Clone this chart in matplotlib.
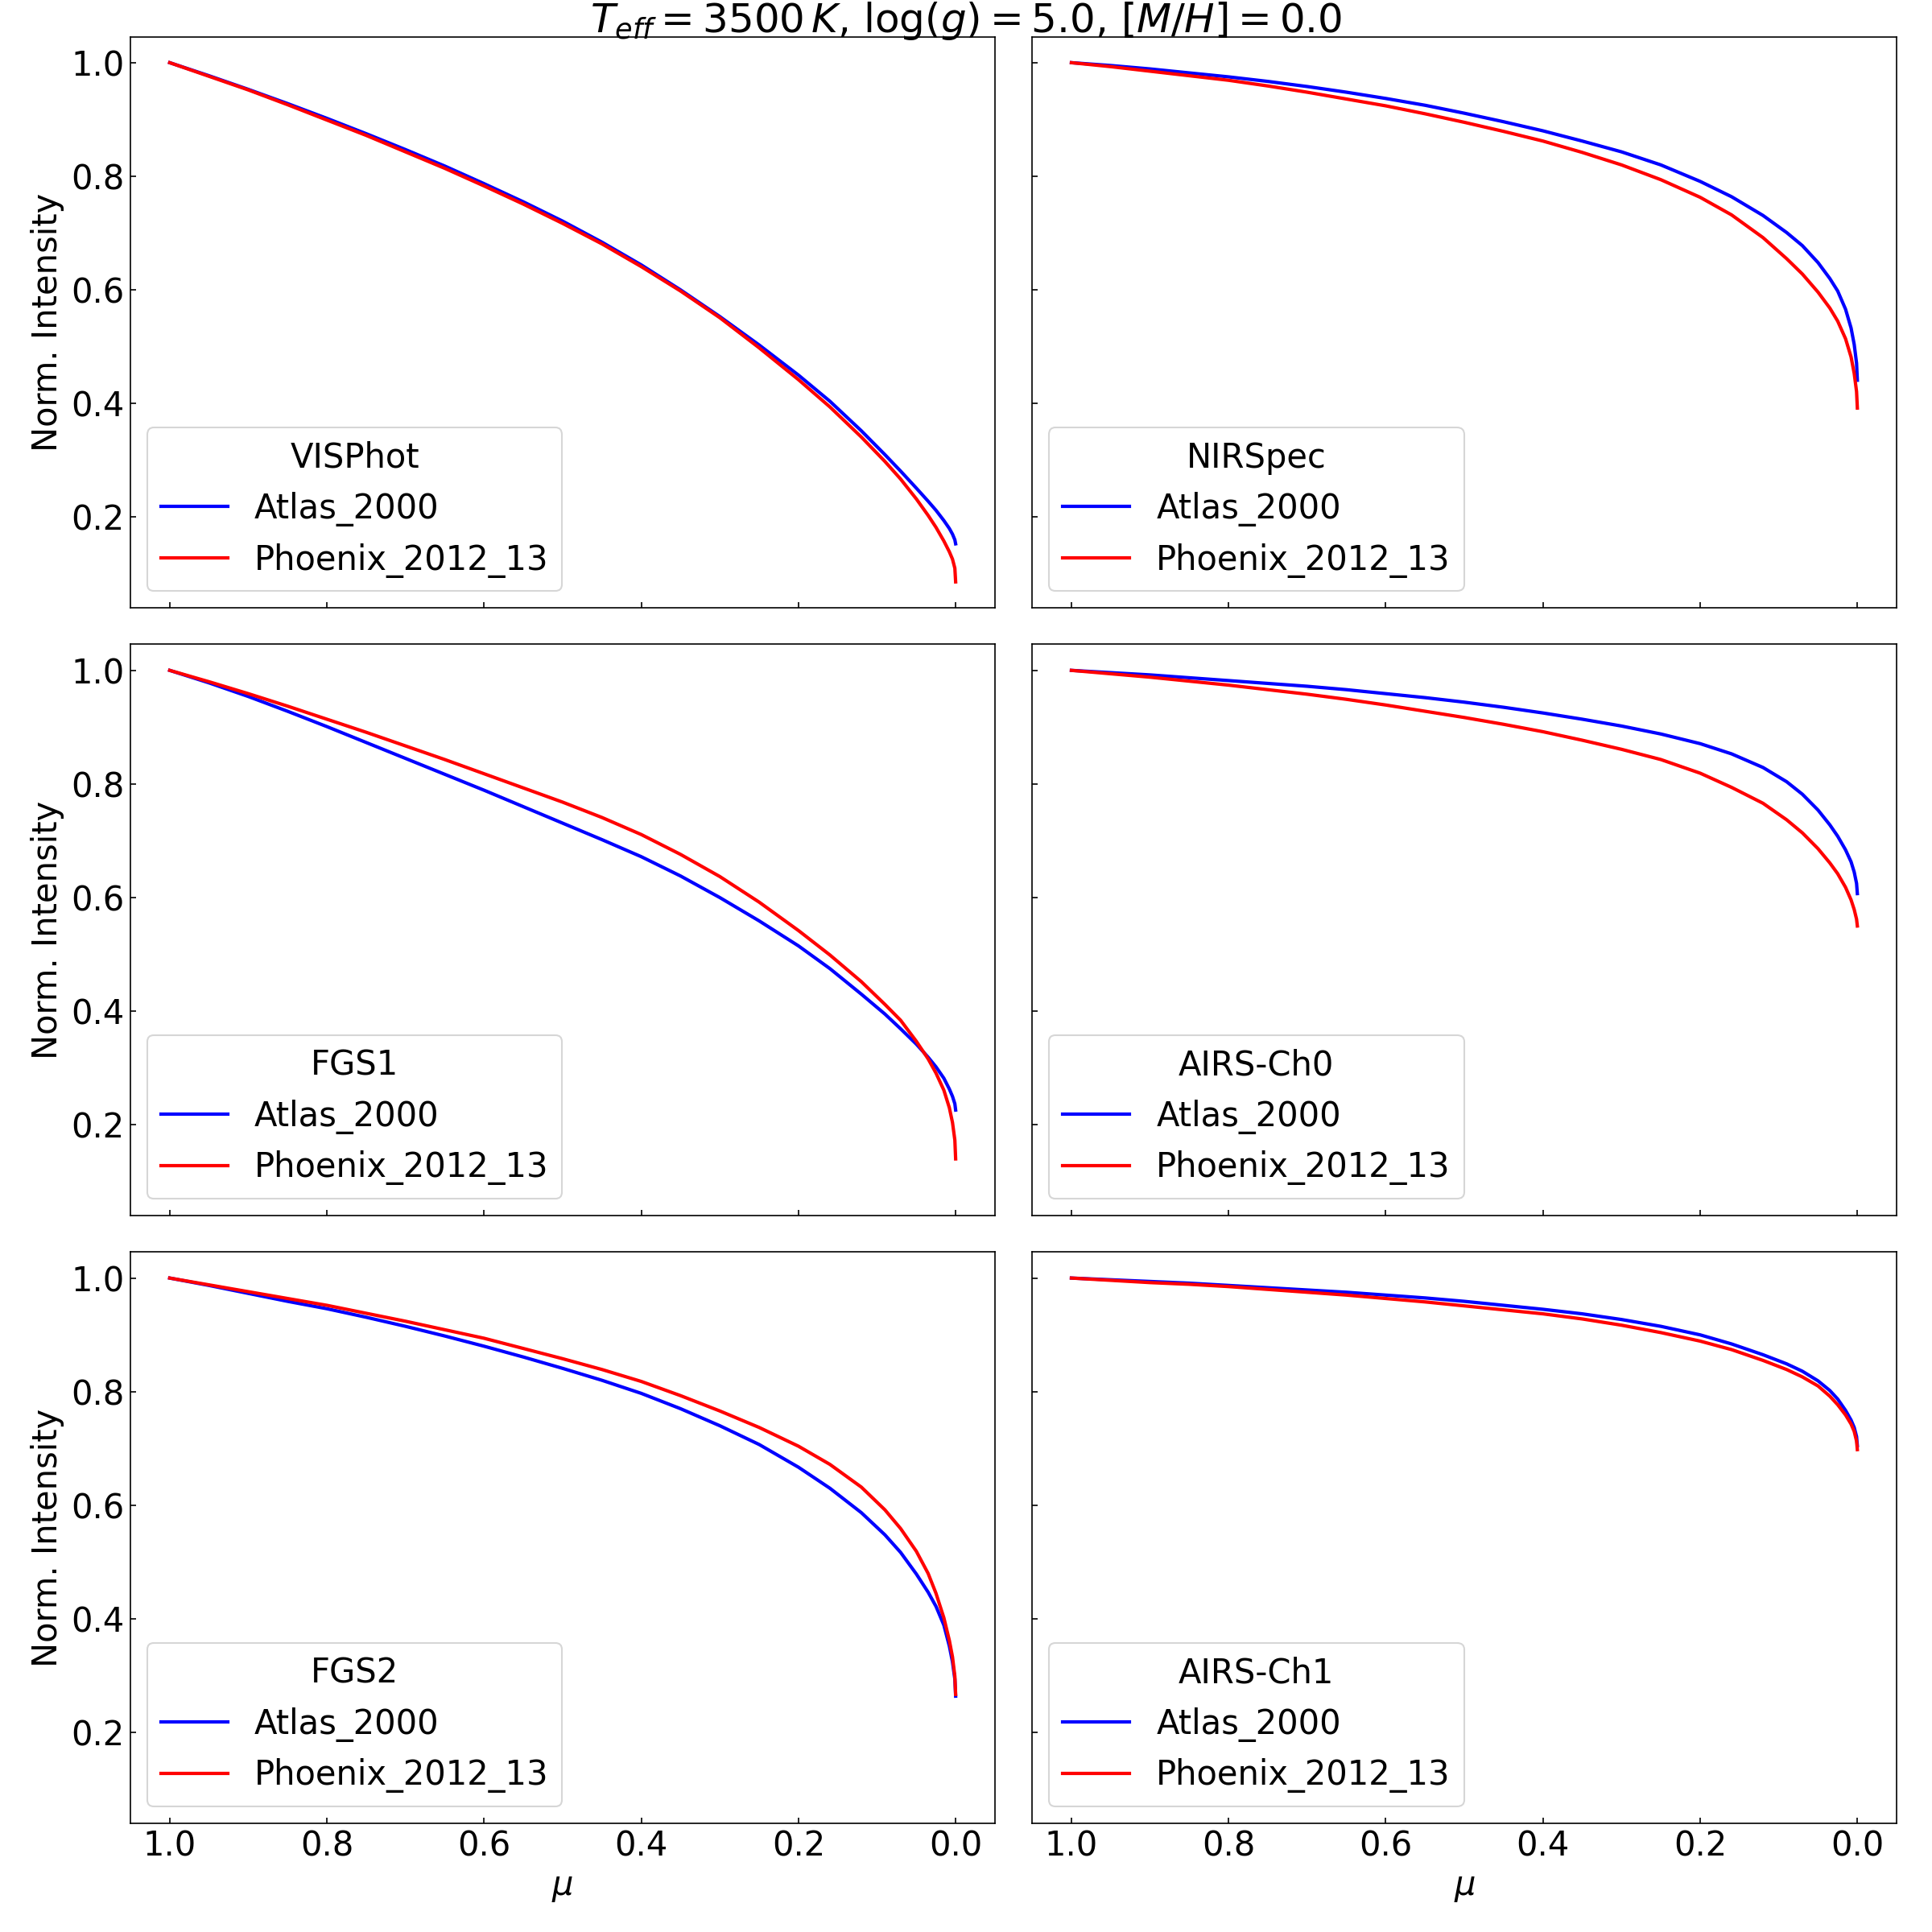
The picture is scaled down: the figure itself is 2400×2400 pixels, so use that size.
import matplotlib
matplotlib.use("Agg")
import matplotlib.pyplot as plt

# mu grid (x axis runs 1 -> 0), denser towards the limb
mu = [1.0, 0.95, 0.9, 0.85, 0.8, 0.75, 0.7, 0.65, 0.6, 0.55, 0.5, 0.45, 0.4, 0.35,
      0.3, 0.25, 0.2, 0.16, 0.12, 0.09, 0.07, 0.05, 0.035, 0.025, 0.015, 0.008,
      0.004, 0.001, 0.0]

visphot_atlas = [1.0, 0.977, 0.953, 0.928, 0.902, 0.875, 0.847, 0.818, 0.787, 0.755,
                 0.721, 0.684, 0.644, 0.600, 0.553, 0.503, 0.450, 0.404, 0.352, 0.310,
                 0.281, 0.251, 0.228, 0.212, 0.194, 0.180, 0.170, 0.160, 0.153]
visphot_phoenix = [1.0, 0.976, 0.952, 0.926, 0.899, 0.872, 0.843, 0.814, 0.783, 0.751,
                   0.717, 0.681, 0.641, 0.598, 0.551, 0.498, 0.442, 0.394, 0.341, 0.298,
                   0.267, 0.232, 0.203, 0.182, 0.158, 0.139, 0.126, 0.110, 0.086]

nirspec_atlas = [1.0, 0.995, 0.989, 0.982, 0.975, 0.967, 0.958, 0.948, 0.937, 0.925,
                 0.911, 0.896, 0.880, 0.862, 0.843, 0.820, 0.791, 0.764, 0.731, 0.701,
                 0.678, 0.648, 0.620, 0.598, 0.566, 0.533, 0.504, 0.471, 0.441]
nirspec_phoenix = [1.0, 0.993, 0.985, 0.977, 0.969, 0.959, 0.948, 0.936, 0.924, 0.910,
                   0.895, 0.879, 0.862, 0.842, 0.820, 0.794, 0.763, 0.732, 0.692, 0.655,
                   0.628, 0.596, 0.568, 0.545, 0.514, 0.482, 0.453, 0.421, 0.392]

fgs1_atlas = [1.0, 0.978, 0.954, 0.928, 0.901, 0.873, 0.845, 0.817, 0.789, 0.760,
              0.731, 0.702, 0.672, 0.638, 0.600, 0.559, 0.515, 0.475, 0.430, 0.395,
              0.369, 0.342, 0.319, 0.302, 0.282, 0.263, 0.250, 0.237, 0.226]
fgs1_phoenix = [1.0, 0.980, 0.959, 0.937, 0.914, 0.891, 0.867, 0.843, 0.818, 0.793,
                0.768, 0.741, 0.711, 0.676, 0.637, 0.592, 0.542, 0.499, 0.452, 0.412,
                0.384, 0.347, 0.316, 0.291, 0.261, 0.230, 0.204, 0.173, 0.140]

airs0_atlas = [1.0, 0.996, 0.992, 0.987, 0.982, 0.977, 0.972, 0.966, 0.959, 0.952,
               0.944, 0.935, 0.925, 0.914, 0.902, 0.888, 0.871, 0.853, 0.829, 0.804,
               0.782, 0.754, 0.728, 0.708, 0.684, 0.663, 0.645, 0.625, 0.607]
airs0_phoenix = [1.0, 0.994, 0.988, 0.981, 0.974, 0.966, 0.958, 0.949, 0.939, 0.928,
                 0.917, 0.905, 0.892, 0.877, 0.861, 0.843, 0.819, 0.794, 0.766, 0.737,
                 0.714, 0.686, 0.661, 0.642, 0.618, 0.596, 0.579, 0.562, 0.550]

fgs2_atlas = [1.0, 0.987, 0.973, 0.959, 0.946, 0.931, 0.915, 0.898, 0.880, 0.861,
              0.841, 0.820, 0.797, 0.770, 0.740, 0.707, 0.667, 0.630, 0.587, 0.548,
              0.517, 0.479, 0.447, 0.422, 0.389, 0.352, 0.324, 0.294, 0.264]
fgs2_phoenix = [1.0, 0.988, 0.976, 0.964, 0.952, 0.938, 0.924, 0.909, 0.894, 0.876,
                0.858, 0.839, 0.818, 0.793, 0.766, 0.737, 0.704, 0.672, 0.632, 0.592,
                0.559, 0.519, 0.480, 0.445, 0.402, 0.362, 0.333, 0.299, 0.267]

airs1_atlas = [1.0, 0.997, 0.994, 0.991, 0.987, 0.983, 0.979, 0.975, 0.970, 0.965,
               0.959, 0.952, 0.945, 0.937, 0.927, 0.915, 0.900, 0.884, 0.865, 0.849,
               0.836, 0.819, 0.802, 0.787, 0.767, 0.750, 0.737, 0.721, 0.705]
airs1_phoenix = [1.0, 0.996, 0.992, 0.989, 0.985, 0.980, 0.975, 0.970, 0.964, 0.958,
                 0.951, 0.944, 0.937, 0.928, 0.917, 0.904, 0.889, 0.874, 0.855, 0.839,
                 0.826, 0.810, 0.792, 0.777, 0.759, 0.743, 0.730, 0.713, 0.698]

bands = ["VISPhot", "NIRSpec", "FGS1", "AIRS-Ch0", "FGS2", "AIRS-Ch1"]
atlas = [visphot_atlas, nirspec_atlas, fgs1_atlas, airs0_atlas, fgs2_atlas, airs1_atlas]
phoenix = [visphot_phoenix, nirspec_phoenix, fgs1_phoenix, airs0_phoenix,
           fgs2_phoenix, airs1_phoenix]

plt.rcParams["font.size"] = 20

fig, axes = plt.subplots(3, 2, figsize=(16, 16), sharex=True, sharey=True)
plt.subplots_adjust(left=0.0675, right=0.9817, top=0.981, bottom=0.0563,
                    wspace=0.043, hspace=0.064)

for i, ax in enumerate(axes.flat):
    ax.plot(mu, atlas[i], color="blue", lw=2, label="Atlas_2000")
    ax.plot(mu, phoenix[i], color="red", lw=2, label="Phoenix_2012_13")
    ax.legend(title=bands[i], loc="lower left", fontsize=20, title_fontsize=20)
    ax.tick_params(direction="in", labelsize=20)
    if i % 2 == 0:
        ax.set_ylabel("Norm. Intensity", fontsize=20)
    if i >= 4:
        ax.set_xlabel(r"$\mu$", fontsize=20)

axes[0, 0].invert_xaxis()
axes[0, 0].set_xticks([1.0, 0.8, 0.6, 0.4, 0.2, 0.0])
axes[0, 0].set_yticks([0.2, 0.4, 0.6, 0.8, 1.0])

fig.suptitle(r"$T_{eff} = 3500\,K$, $\log(g) = 5.0$, $[M/H] = 0.0$",
             fontsize=24, y=1.0)

plt.savefig("out.png", dpi=150)
